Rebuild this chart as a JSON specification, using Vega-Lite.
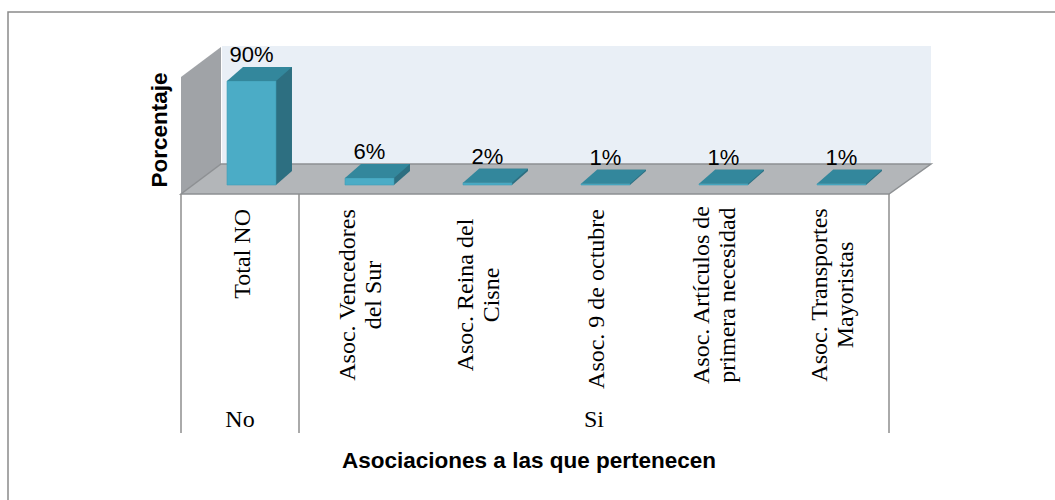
{
  "$schema": "https://vega.github.io/schema/vega-lite/v6.json",
  "width": 1050,
  "height": 490,
  "autosize": {"type": "none"},
  "padding": {"left": 8, "top": 12, "right": 0, "bottom": 0},
  "background": "white",
  "config": {"view": {"stroke": "#8B8B8B", "strokeWidth": 1.5}},
  "datasets": {
    "asociaciones": [
      {"cat": "Total NO", "grupo": "No", "pct": 0.90, "lineas": ["Total NO"]},
      {"cat": "Asoc. Vencedores del Sur", "grupo": "Si", "pct": 0.06, "lineas": ["Asoc. Vencedores", "del Sur"]},
      {"cat": "Asoc. Reina del Cisne", "grupo": "Si", "pct": 0.02, "lineas": ["Asoc. Reina del", "Cisne"]},
      {"cat": "Asoc. 9 de octubre", "grupo": "Si", "pct": 0.01, "lineas": ["Asoc. 9 de octubre"]},
      {"cat": "Asoc. Artículos de primera necesidad", "grupo": "Si", "pct": 0.01, "lineas": ["Asoc. Artículos de", "primera necesidad"]},
      {"cat": "Asoc. Transportes Mayoristas", "grupo": "Si", "pct": 0.01, "lineas": ["Asoc. Transportes", "Mayoristas"]}
    ],
    "marco": [{"elemento": "plano"}]
  },
  "data": {"name": "asociaciones"},
  "layer": [
    {
      "data": {"name": "marco"},
      "mark": {"type": "point", "shape": "M41,-139L750,-139L750,-21L41,-21Z", "size": 4, "filled": true, "fill": "#E9EFF6", "opacity": 1, "strokeWidth": 0},
      "encoding": {
        "x": {"datum": "Total NO", "type": "nominal", "bandPosition": 0, "axis": null,
              "scale": {"type": "band", "domain": ["Total NO", "Asoc. Vencedores del Sur", "Asoc. Reina del Cisne", "Asoc. 9 de octubre", "Asoc. Artículos de primera necesidad", "Asoc. Transportes Mayoristas"], "range": [173, 881], "paddingInner": 0, "paddingOuter": 0}},
        "y": {"datum": 0, "type": "quantitative", "axis": null,
              "scale": {"domain": [0, 1], "range": [173, 57.44], "nice": false, "zero": false}}
      }
    },
    {
      "data": {"name": "marco"},
      "mark": {"type": "point", "shape": "M0,-108L40,-138L40,-21L0,9Z", "size": 4, "filled": true, "fill": "#A0A3A7", "opacity": 1, "strokeWidth": 0},
      "encoding": {
        "x": {"datum": "Total NO", "type": "nominal", "bandPosition": 0},
        "y": {"datum": 0, "type": "quantitative"}
      }
    },
    {
      "data": {"name": "marco"},
      "mark": {"type": "point", "shape": "M0,9L708,9L750,-21L40,-21Z", "size": 4, "filled": true, "fill": "#B3B6B9", "opacity": 1, "stroke": "#8D9093", "strokeWidth": 1.5},
      "encoding": {
        "x": {"datum": "Total NO", "type": "nominal", "bandPosition": 0},
        "y": {"datum": 0, "type": "quantitative"}
      }
    },
    {
      "mark": {"type": "bar", "width": {"band": 0.415}, "xOffset": 27.5, "yOffset": -14, "y2Offset": -14, "fill": "#2D6F81"},
      "encoding": {
        "x": {"field": "cat", "type": "nominal"},
        "y": {"field": "pct", "type": "quantitative"},
        "y2": {"datum": 0}
      }
    },
    {
      "mark": {"type": "point", "shape": "M24.5,0L40.5,-14L24.5,-14Z", "size": 4, "filled": true, "fill": "#2D6F81", "opacity": 1, "strokeWidth": 0, "xOffset": 11.5},
      "encoding": {
        "x": {"field": "cat", "type": "nominal"},
        "y": {"datum": 0, "type": "quantitative"}
      }
    },
    {
      "mark": {"type": "bar", "width": {"band": 0.415}, "xOffset": 11.5, "fill": "#4BACC6", "stroke": "#3F9DB5", "strokeWidth": 0.6},
      "encoding": {
        "x": {"field": "cat", "type": "nominal"},
        "y": {"field": "pct", "type": "quantitative"},
        "y2": {"datum": 0}
      }
    },
    {
      "mark": {"type": "point", "shape": "M-24.5,0L24.5,0L40.5,-14L-8.5,-14Z", "size": 4, "filled": true, "fill": "#33879C", "opacity": 1, "strokeWidth": 0, "xOffset": 11.5},
      "encoding": {
        "x": {"field": "cat", "type": "nominal"},
        "y": {"field": "pct", "type": "quantitative"}
      }
    },
    {
      "mark": {"type": "text", "xOffset": 11.5, "dy": -19, "baseline": "alphabetic", "align": "center", "font": "Liberation Sans", "fontSize": 22, "color": "#000000"},
      "encoding": {
        "x": {"field": "cat", "type": "nominal"},
        "y": {"field": "pct", "type": "quantitative"},
        "text": {"field": "pct", "type": "quantitative", "format": ".0%"}
      }
    },
    {
      "transform": [{"filter": "datum.cat === 'Total NO' || datum.cat === 'Asoc. Vencedores del Sur'"}],
      "mark": {"type": "rule", "color": "#8E8E8E", "strokeWidth": 1.5, "yOffset": 9, "y2Offset": 0},
      "encoding": {
        "x": {"field": "cat", "type": "nominal", "bandPosition": 0},
        "y": {"datum": 0, "type": "quantitative"},
        "y2": {"datum": -2.146}
      }
    },
    {
      "transform": [{"filter": "datum.cat === 'Asoc. Transportes Mayoristas'"}],
      "mark": {"type": "rule", "color": "#8E8E8E", "strokeWidth": 1.5, "yOffset": 9, "y2Offset": 0},
      "encoding": {
        "x": {"field": "cat", "type": "nominal", "bandPosition": 1},
        "y": {"datum": 0, "type": "quantitative"},
        "y2": {"datum": -2.146}
      }
    },
    {
      "transform": [{"filter": "length(datum.lineas) == 1"}],
      "mark": {"type": "text", "angle": 270, "align": "right", "baseline": "alphabetic", "dy": 10, "font": "Liberation Serif", "fontSize": 24, "color": "#000000"},
      "encoding": {
        "x": {"field": "cat", "type": "nominal"},
        "y": {"datum": -0.2077, "type": "quantitative"},
        "text": {"field": "lineas", "type": "nominal"}
      }
    },
    {
      "transform": [{"filter": "length(datum.lineas) == 2"}],
      "mark": {"type": "text", "angle": 270, "align": "center", "baseline": "alphabetic", "dy": -3, "lineHeight": 26, "font": "Liberation Serif", "fontSize": 24, "color": "#000000"},
      "encoding": {
        "x": {"field": "cat", "type": "nominal"},
        "y": {"datum": -0.952, "type": "quantitative"},
        "text": {"field": "lineas", "type": "nominal"}
      }
    },
    {
      "transform": [{"filter": "datum.cat === 'Total NO' || datum.cat === 'Asoc. 9 de octubre'"}],
      "mark": {"type": "text", "align": "center", "baseline": "alphabetic", "font": "Liberation Serif", "fontSize": 24, "color": "#000000"},
      "encoding": {
        "x": {"field": "cat", "type": "nominal"},
        "y": {"datum": -2.094, "type": "quantitative"},
        "text": {"field": "grupo", "type": "nominal"}
      }
    },
    {
      "data": {"name": "marco"},
      "mark": {"type": "text", "angle": 270, "align": "center", "baseline": "alphabetic", "xOffset": -14, "font": "Liberation Sans", "fontWeight": "bold", "fontSize": 22.5, "color": "#000000", "text": "Porcentaje"},
      "encoding": {
        "x": {"datum": "Total NO", "type": "nominal", "bandPosition": 0},
        "y": {"datum": 0.476, "type": "quantitative"}
      }
    },
    {
      "data": {"name": "marco"},
      "mark": {"type": "text", "align": "center", "baseline": "alphabetic", "xOffset": -6, "font": "Liberation Sans", "fontWeight": "bold", "fontSize": 22.5, "color": "#000000", "text": "Asociaciones a las que pertenecen"},
      "encoding": {
        "x": {"datum": "Asoc. Reina del Cisne", "type": "nominal", "bandPosition": 1},
        "y": {"datum": -2.449, "type": "quantitative"}
      }
    }
  ]
}
